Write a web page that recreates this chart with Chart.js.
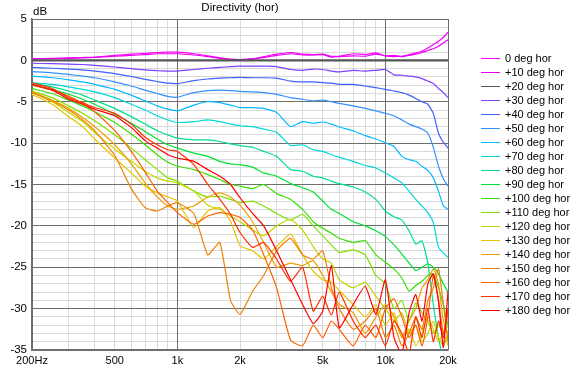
<!DOCTYPE html>
<html><head><meta charset="utf-8">
<script src="https://cdn.jsdelivr.net/npm/chart.js@4.4.1/dist/chart.umd.min.js"></script>
<style>html,body{margin:0;padding:0;background:#fff;}canvas{display:block;}</style>
</head><body>
<canvas id="c" width="578" height="368"></canvas>
<script>
const freqs = [200,250,300,350,400,500,600,700,800,900,1000,1200,1400,1600,1800,2000,2300,2600,3000,3500,4000,4500,5000,5500,6000,7000,8000,9000,10000,11000,12000,13000,14000,15000,16000,17000,18000,19000,20000];

const deg0   = [0.2,0.25,0.3,0.35,0.4,0.6,0.75,0.85,0.95,1.0,1.0,0.8,0.55,0.3,0.15,0.1,0.2,0.45,0.75,0.95,0.75,0.7,0.75,0.5,0.5,0.8,0.7,0.9,0.55,0.6,0.45,0.7,0.9,1.1,1.5,1.9,2.3,2.8,3.4];
const deg10  = [0.15,0.2,0.25,0.3,0.35,0.5,0.6,0.7,0.8,0.8,0.8,0.65,0.45,0.25,0.1,0.05,0.15,0.35,0.6,0.8,0.65,0.65,0.7,0.4,0.45,0.55,0.5,0.75,0.55,0.45,0.5,0.6,0.75,0.95,1.2,1.4,1.7,2.1,2.5];
const deg20  = [0,0,0,0,0,0,0,0,0,0,0,0,0,0,0,0,0,0,0,0,0,0,0,0,0,0,0,0,0,0,0,0,0,0,0,0,0,0,0];
const deg30  = [-0.35,-0.4,-0.45,-0.5,-0.6,-0.8,-1.0,-1.15,-1.25,-1.3,-1.3,-1.1,-0.95,-0.85,-0.75,-0.7,-0.7,-0.7,-0.75,-1.1,-1.2,-1.05,-1.1,-1.3,-1.4,-1.2,-1.3,-1.2,-1.1,-1.75,-1.8,-1.9,-2.0,-2.2,-2.5,-2.8,-3.4,-3.9,-4.5];
const deg40  = [-0.85,-0.95,-1.05,-1.15,-1.3,-1.6,-1.95,-2.3,-2.55,-2.75,-2.8,-2.45,-2.25,-2.15,-2.1,-2.05,-2.1,-2.1,-2.15,-2.5,-2.6,-2.6,-2.7,-2.75,-2.9,-2.9,-3.1,-3.3,-3.5,-3.7,-3.9,-4.2,-4.6,-5.0,-5.3,-6.4,-8.8,-9.9,-10.6];
const deg50  = [-1.37,-1.5,-1.7,-1.9,-2.1,-2.6,-3.1,-3.6,-4.0,-4.35,-4.45,-3.9,-3.65,-3.6,-3.65,-3.75,-3.8,-3.9,-4.1,-4.5,-4.7,-4.9,-4.8,-5.0,-5.2,-5.5,-5.8,-6.1,-6.4,-6.7,-7.2,-7.7,-8.0,-8.3,-8.8,-10.5,-12.8,-14.3,-15.2];
const deg60  = [-1.9,-2.1,-2.35,-2.6,-2.9,-3.5,-4.2,-4.9,-5.5,-5.9,-6.1,-5.4,-5.0,-5.1,-5.4,-5.7,-5.7,-5.8,-6.3,-8.0,-7.4,-7.6,-7.45,-7.7,-8.05,-8.5,-9.1,-9.5,-9.95,-10.4,-11.6,-12.0,-12.2,-12.8,-13.3,-14.2,-15.8,-17.6,-18.0];
const deg70  = [-2.7,-2.9,-3.2,-3.5,-3.8,-4.5,-5.3,-6.0,-6.7,-7.2,-7.5,-7.4,-7.2,-7.4,-7.7,-7.9,-8.0,-8.3,-8.7,-10.3,-10.2,-10.8,-11.0,-11.4,-11.7,-12.2,-12.7,-13.0,-13.6,-14.2,-14.8,-15.8,-16.8,-17.6,-18.4,-19.6,-22.6,-23.3,-23.8];
const deg80  = [-2.8,-3.2,-3.7,-4.2,-4.8,-5.8,-6.8,-7.7,-8.5,-9.0,-9.4,-9.6,-9.6,-9.8,-10.1,-10.3,-10.5,-11.0,-11.6,-13.2,-13.4,-14.0,-14.2,-14.6,-14.9,-15.3,-15.9,-16.8,-18.2,-18.9,-19.3,-20.6,-22.2,-21.8,-24.5,-29.5,-33.5,-36.0,-37.0];
const deg90  = [-3.0,-3.5,-4.1,-4.7,-5.3,-6.5,-7.6,-8.6,-9.5,-10.2,-10.6,-11.2,-11.6,-12.2,-12.5,-12.6,-12.9,-13.6,-14.0,-14.9,-15.4,-15.9,-17.0,-18.0,-18.5,-19.5,-20.0,-20.6,-21.3,-22.3,-23.4,-24.5,-25.4,-25.0,-24.6,-25.0,-25.8,-27.0,-28.0];
const deg100 = [-3.4,-4.0,-4.8,-5.5,-6.2,-7.5,-8.9,-10.2,-11.4,-12.3,-12.8,-13.2,-13.8,-14.4,-15.0,-15.2,-15.5,-15.0,-16.1,-16.8,-18.0,-19.5,-20.3,-20.9,-21.5,-22.0,-21.8,-23.5,-24.4,-25.2,-26.3,-27.9,-27.2,-26.7,-26.0,-25.8,-27.5,-29.5,-32.0];
const deg110 = [-3.7,-4.5,-5.5,-6.4,-7.3,-9.0,-10.6,-12.0,-13.2,-14.2,-14.6,-15.8,-16.5,-16.4,-16.8,-17.2,-17.0,-17.6,-18.5,-19.3,-18.6,-20.0,-21.2,-22.3,-23.2,-22.9,-23.5,-26.0,-27.0,-30.0,-29.0,-31.5,-29.3,-30.5,-31.5,-33.0,-32.0,-33.0,-32.0];
const deg120 = [-3.9,-5.0,-6.3,-7.4,-8.7,-10.7,-12.2,-13.4,-14.2,-14.6,-14.8,-15.8,-17.5,-18.0,-18.8,-19.5,-20.5,-21.2,-20.0,-19.2,-20.5,-22.5,-24.0,-24.5,-26.5,-27.5,-26.8,-28.5,-30.0,-31.5,-30.5,-33.0,-32.0,-34.0,-33.0,-31.5,-33.5,-34.5,-33.0];
const deg130 = [-4.1,-5.3,-6.8,-8.0,-9.5,-11.8,-13.6,-15.2,-16.0,-16.5,-17.0,-20.2,-18.2,-17.8,-19.4,-22.4,-23.0,-24.0,-22.5,-21.0,-23.5,-25.5,-26.5,-26.8,-27.8,-29.5,-31.0,-29.5,-32.0,-30.5,-33.5,-32.5,-34.5,-33.0,-31.0,-32.5,-34.0,-33.0,-34.5];
const deg140 = [-3.8,-4.8,-5.8,-6.9,-8.0,-10.2,-12.5,-14.8,-16.5,-17.6,-18.0,-17.6,-16.5,-16.0,-16.5,-17.5,-19.5,-22.0,-25.0,-24.5,-24.8,-24.2,-26.0,-28.0,-29.5,-30.5,-33.0,-31.0,-29.5,-31.0,-33.5,-31.5,-30.0,-27.5,-26.5,-25.2,-27.0,-31.5,-33.0];
const deg150 = [-3.9,-4.9,-6.0,-7.2,-8.5,-11.5,-15.5,-17.8,-18.2,-17.6,-17.2,-18.5,-23.5,-22.0,-29.0,-30.7,-27.9,-26.0,-23.0,-21.5,-23.5,-24.0,-23.0,-27.5,-30.0,-32.5,-31.5,-30.0,-33.5,-32.0,-34.5,-33.0,-31.0,-32.5,-29.0,-27.5,-25.2,-29.5,-34.0];
const deg160 = [-3.0,-3.6,-4.3,-5.2,-6.2,-8.5,-11.0,-13.5,-15.8,-17.2,-18.4,-19.8,-18.8,-18.4,-18.6,-19.0,-20.5,-23.5,-27.5,-33.8,-34.5,-32.0,-33.5,-31.5,-32.5,-34.5,-32.0,-33.5,-30.0,-28.8,-31.0,-33.5,-32.0,-34.5,-31.0,-26.0,-29.0,-33.0,-30.5];
const deg170 = [-2.7,-3.4,-4.5,-5.1,-5.7,-6.4,-7.7,-9.3,-10.2,-10.8,-11.0,-12.6,-15.0,-16.8,-18.6,-20.8,-22.6,-22.0,-24.0,-26.7,-25.0,-30.3,-28.5,-30.8,-28.0,-31.5,-33.5,-32.0,-34.5,-31.5,-33.0,-35.5,-31.0,-33.5,-30.0,-34.0,-31.5,-33.5,-30.0];
const deg180 = [-2.9,-3.6,-4.7,-5.3,-5.9,-6.7,-8.1,-9.7,-10.6,-11.4,-11.8,-12.2,-13.2,-14.0,-15.0,-16.6,-18.5,-20.0,-23.0,-26.5,-29.5,-31.8,-30.3,-24.8,-32.3,-29.5,-27.3,-30.7,-26.5,-33.5,-35.5,-30.5,-28.3,-31.5,-27.0,-25.8,-29.1,-34.7,-27.9];

const seriesNames = ['0 deg hor','+10 deg hor','+20 deg hor','+30 deg hor','+40 deg hor','+50 deg hor','+60 deg hor','+70 deg hor','+80 deg hor','+90 deg hor','+100 deg hor','+110 deg hor','+120 deg hor','+130 deg hor','+140 deg hor','+150 deg hor','+160 deg hor','+170 deg hor','+180 deg hor'];
const seriesValues = [deg0,deg10,deg20,deg30,deg40,deg50,deg60,deg70,deg80,deg90,deg100,deg110,deg120,deg130,deg140,deg150,deg160,deg170,deg180];
const seriesColors = ['#ff00ff','#e800f0','#555555','#7f40ff','#4060ff','#3590ff','#00baff','#00d8d8','#00e088','#00e030','#38e000','#80e000','#c0d800','#e6c400','#eca000','#f08000','#ff6000','#ff3000','#ff0000'];

const xTickValues = [200,300,400,500,600,700,800,900,1000,2000,3000,4000,5000,6000,7000,8000,9000,10000,20000];
const xTickLabels = {200:'200Hz',500:'500',1000:'1k',2000:'2k',5000:'5k',10000:'10k',20000:'20k'};
const xMajor = [200,1000,10000,20000];
const yLabelValues = [5,0,-5,-10,-15,-20,-25,-30,-35];
const FONT = '"Liberation Sans", Arial, sans-serif';
const DARK = '#6f6f6f', LIGHT = '#dadada';

const datasets = seriesValues.map((vals, i) => ({
  label: seriesNames[i],
  data: vals.map((v, j) => ({x: freqs[j], y: v})),
  borderColor: seriesColors[i],
  backgroundColor: seriesColors[i],
  borderWidth: i === 2 ? 2.2 : 1.2,
  pointRadius: 0,
  tension: 0.15,
  fill: false,
  order: seriesValues.length - i
}));

function alignPx(p) { return Math.round(p - 0.5) + 0.5; }

const majorGrid = {
  id: 'majorGrid',
  beforeDatasetsDraw(chart) {
    const ctx = chart.ctx, a = chart.chartArea, xs = chart.scales.x, ys = chart.scales.y;
    ctx.save();
    ctx.strokeStyle = DARK;
    ctx.lineWidth = 1;
    ctx.beginPath();
    xMajor.forEach(v => { const px = alignPx(xs.getPixelForValue(v)); ctx.moveTo(px, a.top); ctx.lineTo(px, a.bottom); });
    yLabelValues.forEach(v => { const py = alignPx(ys.getPixelForValue(v)); ctx.moveTo(a.left, py); ctx.lineTo(a.right, py); });
    ctx.stroke();
    ctx.restore();
  }
};

const overlay = {
  id: 'overlay',
  afterDraw(chart) {
    const ctx = chart.ctx, a = chart.chartArea;
    ctx.save();
    ctx.fillStyle = '#000';
    ctx.textBaseline = 'middle';
    ctx.font = '11.5px ' + FONT;
    ctx.textAlign = 'center';
    ctx.fillText('Directivity (hor)', (a.left + a.right) / 2, 8);
    ctx.textAlign = 'left';
    ctx.fillText('dB', 33, 12);
    ctx.font = '11px ' + FONT;
    seriesNames.forEach((name, i) => {
      const y = Math.round(58 + i * 14);
      ctx.strokeStyle = seriesColors[i];
      ctx.lineWidth = 1;
      ctx.beginPath();
      ctx.moveTo(481, y + 0.5);
      ctx.lineTo(500, y + 0.5);
      ctx.stroke();
      ctx.fillStyle = '#000';
      ctx.fillText(name, 505, y + 0.5);
    });
    ctx.restore();
  }
};

new Chart(document.getElementById('c'), {
  type: 'line',
  data: { datasets },
  options: {
    responsive: false,
    animation: false,
    devicePixelRatio: 1,
    layout: { padding: { top: 19, right: 130, left: 0, bottom: 0 } },
    plugins: { legend: { display: false }, tooltip: { enabled: false }, title: { display: false } },
    scales: {
      x: {
        type: 'logarithmic', min: 200, max: 20000,
        afterBuildTicks(scale) { scale.ticks = xTickValues.map(v => ({value: v})); },
        afterFit(scale) { scale.height = 18; },
        grid: { color: LIGHT, lineWidth: 1, drawTicks: false },
        border: { display: true, color: DARK, width: 1.5 },
        ticks: { autoSkip: false, maxRotation: 0, minRotation: 0, padding: 4, color: '#000',
          font: { size: 11, family: FONT },
          callback: (v) => xTickLabels[v] || '' }
      },
      y: {
        type: 'linear', min: -35, max: 5,
        ticks: { stepSize: 1, autoSkip: false, padding: 5, color: '#000',
          font: { size: 11.5, family: FONT },
          callback: (v) => yLabelValues.includes(v) ? String(v) : '' },
        afterFit(scale) { scale.width = 32; },
        grid: { color: LIGHT, lineWidth: 1, drawTicks: false },
        border: { display: true, color: DARK, width: 1.5 }
      }
    }
  },
  plugins: [majorGrid, overlay]
});
</script>
</body></html>
